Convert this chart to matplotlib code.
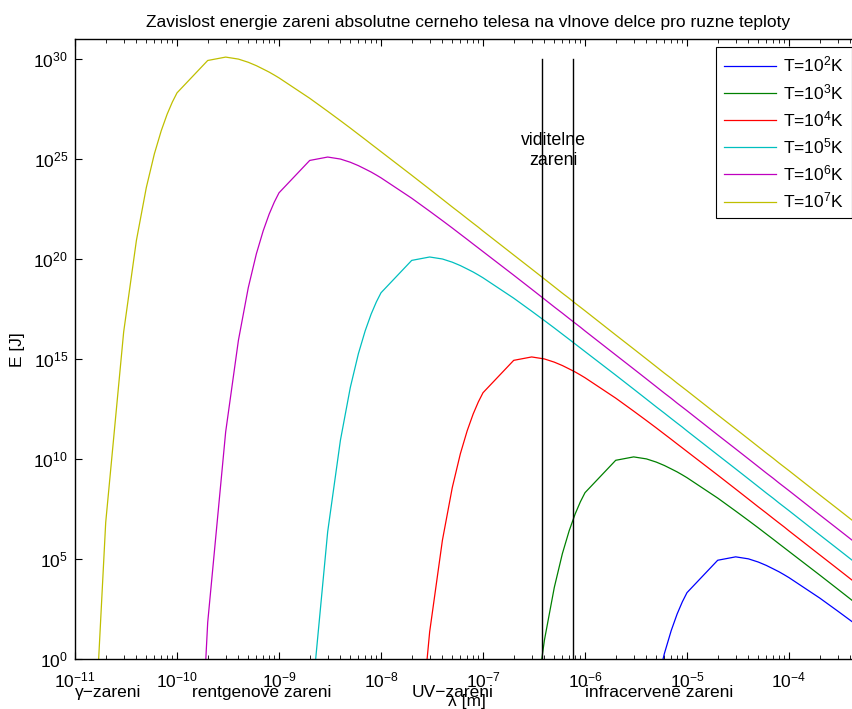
import numpy as np
import matplotlib
matplotlib.use("Agg")
import matplotlib.pyplot as plt
from matplotlib.ticker import FixedLocator, FuncFormatter, LogLocator, NullLocator

plt.rcParams['font.family'] = ['Liberation Sans', 'DejaVu Sans']
plt.rcParams['mathtext.fontset'] = 'custom'
plt.rcParams['mathtext.rm'] = 'Liberation Sans'
plt.rcParams['mathtext.it'] = 'Liberation Sans:italic'

# wavelength samples: 1..9 x 10^d
decades = [-11, -10, -9, -8, -7, -6, -5, -4]
mantissa = [1, 2, 3, 4, 5, 6, 7, 8, 9]
lam = np.array([m * 10.0**d for d in decades for m in mantissa])

# log10(E), each series ends at the last wavelength
logE_1e7 = [-22.91, 6.83, 16.36, 20.94, 23.58, 25.27, 26.42, 27.25, 27.86,
            28.32, 29.94, 30.11, 30.01, 29.85, 29.68, 29.51, 29.36, 29.21,
            29.07, 28.05, 27.40, 26.93, 26.56, 26.25, 25.99, 25.76, 25.56,
            25.38, 24.20, 23.50, 23.00, 22.61, 22.30, 22.03, 21.80, 21.60,
            21.41, 20.21, 19.51, 19.01, 18.62, 18.30, 18.04, 17.80, 17.60,
            17.42, 16.21, 15.51, 15.01, 14.62, 14.30, 14.04, 13.80, 13.60,
            13.42, 12.21, 11.51, 11.01, 10.62, 10.30, 10.04, 9.80, 9.60,
            9.42, 8.21, 7.51, 7.01, 6.62, 6.30, 6.04, 5.80, 5.60]
logE_1e6 = [-27.91, 1.83, 11.36, 15.94, 18.58, 20.27, 21.42, 22.25, 22.86,
            23.32, 24.94, 25.11, 25.01, 24.85, 24.68, 24.51, 24.36, 24.21,
            24.07, 23.05, 22.40, 21.93, 21.56, 21.25, 20.99, 20.76, 20.56,
            20.38, 19.20, 18.50, 18.00, 17.61, 17.30, 17.03, 16.80, 16.60,
            16.41, 15.21, 14.51, 14.01, 13.62, 13.30, 13.04, 12.80, 12.60,
            12.42, 11.21, 10.51, 10.01, 9.62, 9.30, 9.04, 8.80, 8.60,
            8.42, 7.21, 6.51, 6.01, 5.62, 5.30, 5.04, 4.80, 4.60]
logE_1e5 = [-32.91, -3.17, 6.36, 10.94, 13.58, 15.27, 16.42, 17.25, 17.86,
            18.32, 19.94, 20.11, 20.01, 19.85, 19.68, 19.51, 19.36, 19.21,
            19.07, 18.05, 17.40, 16.93, 16.56, 16.25, 15.99, 15.76, 15.56,
            15.38, 14.20, 13.50, 13.00, 12.61, 12.30, 12.03, 11.80, 11.60,
            11.41, 10.21, 9.51, 9.01, 8.62, 8.30, 8.04, 7.80, 7.60,
            7.42, 6.21, 5.51, 5.01, 4.62, 4.30, 4.04, 3.80, 3.60]
logE_1e4 = [-37.91, -8.17, 1.36, 5.94, 8.58, 10.27, 11.42, 12.25, 12.86,
            13.32, 14.94, 15.11, 15.01, 14.85, 14.68, 14.51, 14.36, 14.21,
            14.07, 13.05, 12.40, 11.93, 11.56, 11.25, 10.99, 10.76, 10.56,
            10.38, 9.20, 8.50, 8.00, 7.61, 7.30, 7.03, 6.80, 6.60,
            6.41, 5.21, 4.51, 4.01, 3.62, 3.30, 3.04, 2.80, 2.60]
logE_1e3 = [-42.91, -13.17, -3.64, 0.94, 3.58, 5.27, 6.42, 7.25, 7.86,
            8.32, 9.94, 10.11, 10.01, 9.85, 9.68, 9.51, 9.36, 9.21,
            9.07, 8.05, 7.40, 6.93, 6.56, 6.25, 5.99, 5.76, 5.56,
            5.38, 4.20, 3.50, 3.00, 2.61, 2.30, 2.03, 1.80, 1.60]
logE_1e2 = [-47.91, -18.17, -8.64, -4.06, -1.42, 0.27, 1.42, 2.25, 2.86,
            3.32, 4.94, 5.11, 5.01, 4.85, 4.68, 4.51, 4.36, 4.21,
            4.07, 3.05, 2.40, 1.93, 1.56, 1.25, 0.99, 0.76, 0.56]

series = [logE_1e2, logE_1e3, logE_1e4, logE_1e5, logE_1e6, logE_1e7]
labels = ['T=10$^2$K', 'T=10$^3$K', 'T=10$^4$K', 'T=10$^5$K', 'T=10$^6$K', 'T=10$^7$K']
colors = [(0, 0, 1), (0, 0.5, 0), (1, 0, 0), (0, 0.75, 0.75), (0.75, 0, 0.75), (0.75, 0.75, 0)]

# visible light band
vis_lo, vis_hi = 380e-9, 760e-9
vis_top = 1e30

bands = ['\u03b3\u2212zareni', 'rentgenove zareni', 'UV\u2212zareni', 'infracervene zareni']
band_x = [1e-11, 1.4e-10, 2e-8, 1e-6]

FS = 12.5
W, H = 853, 709
fig = plt.figure(figsize=(W / 100, H / 100), dpi=100)
ax = fig.add_axes([75 / W, (H - 659) / H, 787 / W, 619.7 / H])

for vals, lab, c in zip(series, labels, colors):
    y = 10.0 ** np.array(vals)
    ax.loglog(lam[-len(vals):], y, '-', color=c, lw=0.9, label=lab)

ax.plot([vis_lo, vis_lo], [1, vis_top], 'k-', lw=1.0)
ax.plot([vis_hi, vis_hi], [1, vis_top], 'k-', lw=1.0)
ax.text(4.85e-7, 2.8e25, 'viditelne\nzareni', ha='center', va='center',
        fontsize=12.8, multialignment='center', linespacing=1.2)

ax.set_xlim(1e-11, 10 ** (-11 + 787 / 102))
ax.set_ylim(1, 1e31)

ax.xaxis.set_major_locator(LogLocator(base=10, numticks=20))
ax.xaxis.set_minor_locator(LogLocator(base=10, subs=np.arange(2, 10), numticks=20))
ax.yaxis.set_major_locator(FixedLocator([10.0**k for k in range(0, 31, 5)]))
ax.yaxis.set_minor_locator(NullLocator())
fmt = FuncFormatter(lambda v, p: r'$10^{%d}$' % round(np.log10(v)))
ax.xaxis.set_major_formatter(fmt)
ax.yaxis.set_major_formatter(fmt)
ax.tick_params(which='both', direction='in', top=True, right=True, labelsize=FS)
ax.tick_params(which='major', length=5, width=0.8)
ax.tick_params(which='minor', length=3, width=0.6)
ax.tick_params(axis='x', pad=8)
ax.tick_params(axis='y', pad=5)
for s in ax.spines.values():
    s.set_linewidth(1.0)

for name, bx in zip(bands, band_x):
    ax.text(bx, -0.054, name, transform=ax.get_xaxis_transform(),
            ha='left', va='center', fontsize=FS)

ax.set_xlabel('\u03bb [m]', fontsize=FS)
ax.xaxis.set_label_coords(0.5 - 2 / 787, -0.056)
ax.set_ylabel('E [J]', fontsize=FS)
ax.yaxis.set_label_coords(-50 / 787, 0.5)

ax.set_title('Zavislost energie zareni absolutne cerneho telesa na vlnove delce pro ruzne teploty',
             fontsize=FS, pad=9)

leg = ax.legend(loc='upper right', bbox_to_anchor=(852 / W, (H - 47) / H),
                bbox_transform=fig.transFigure, fontsize=FS, fancybox=False,
                framealpha=1, edgecolor='k', handlelength=3.0, labelspacing=0.42,
                borderaxespad=0, borderpad=0.45, handletextpad=0.45)
leg.get_frame().set_linewidth(0.8)

fig.savefig('out.png', dpi=100)
